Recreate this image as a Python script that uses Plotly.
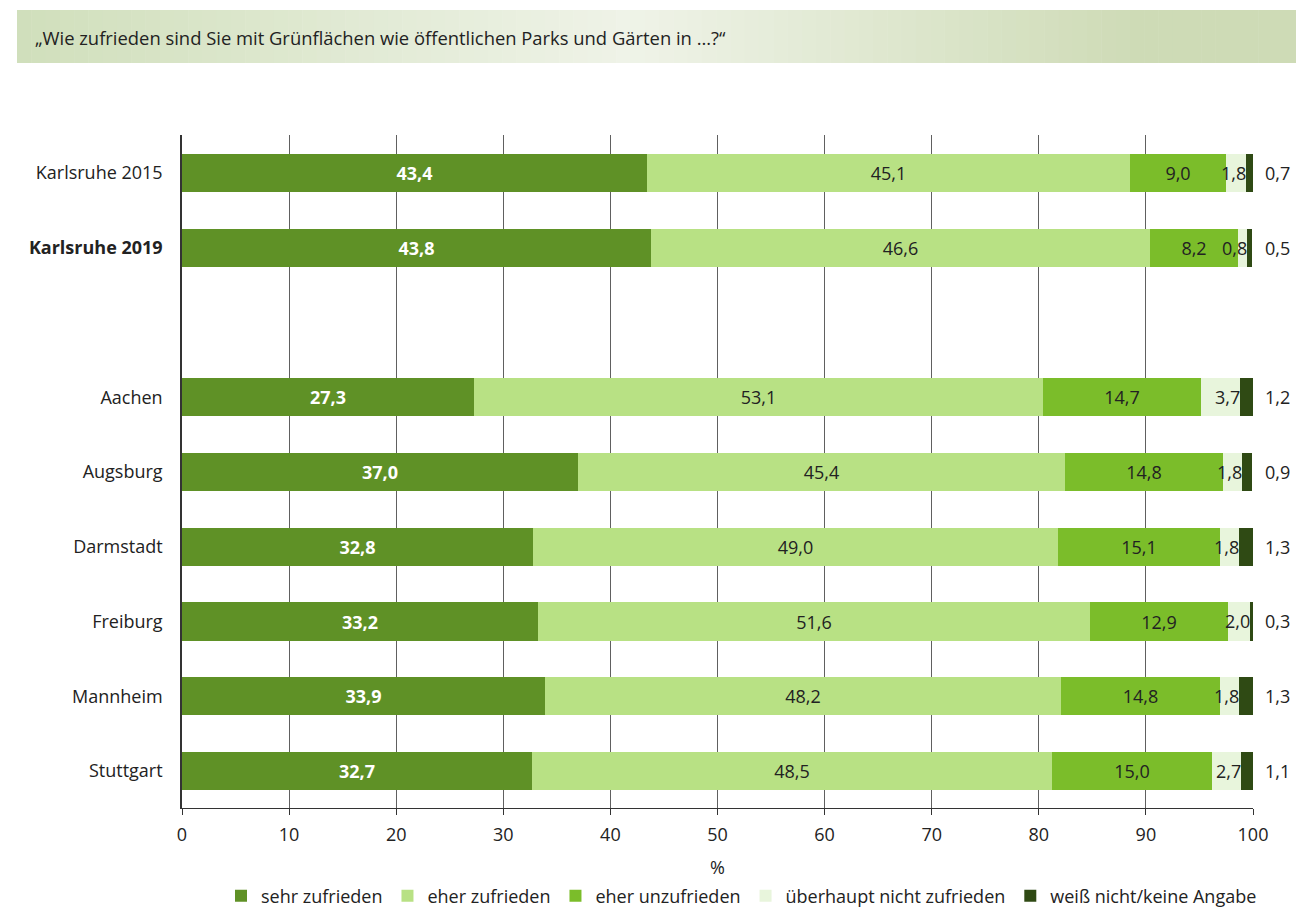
import plotly.graph_objects as go

categories = ["Karlsruhe 2015", "Karlsruhe 2019", "Aachen", "Augsburg", "Darmstadt",
              "Freiburg", "Mannheim", "Stuttgart"]
positions = [8, 7, 5, 4, 3, 2, 1, 0]

sehr_zufrieden = [43.4, 43.8, 27.3, 37.0, 32.8, 33.2, 33.9, 32.7]
eher_zufrieden = [45.1, 46.6, 53.1, 45.4, 49.0, 51.6, 48.2, 48.5]
eher_unzufrieden = [9.0, 8.2, 14.7, 14.8, 15.1, 12.9, 14.8, 15.0]
ueberhaupt_nicht = [1.8, 0.8, 3.7, 1.8, 1.8, 2.0, 1.8, 2.7]
weiss_nicht = [0.7, 0.5, 1.2, 0.9, 1.3, 0.3, 1.3, 1.1]

series_names = ["sehr zufrieden", "eher zufrieden", "eher unzufrieden",
                "überhaupt nicht zufrieden", "weiß nicht/keine Angabe"]
series_values = [sehr_zufrieden, eher_zufrieden, eher_unzufrieden, ueberhaupt_nicht, weiss_nicht]
colors = ["#5f9126", "#b8e184", "#7bbd2a", "#e8f5dc", "#2f4a14"]

x_ticks = list(range(0, 101, 10))
title_text = "„Wie zufrieden sind Sie mit Grünflächen wie öffentlichen Parks und Gärten in …?“"

FONT = "Open Sans"
FS = 18
TXT = "#222222"
OFF = 8  # page body margin
FIG_W, FIG_H = 1304 - 2 * OFF, 920 - 2 * OFF


def fmt(v):
    return f"{v:.1f}".replace(".", ",")


fig = go.Figure()
for i, (name, vals, col) in enumerate(zip(series_names, series_values, colors)):
    if i == 0:
        tf = dict(family=FONT, size=FS, color="white", weight="bold")
    else:
        tf = dict(family=FONT, size=FS, color=TXT)
    with_text = i in (0, 1, 2)
    fig.add_trace(go.Bar(
        y=positions, x=vals, name=name, orientation="h",
        marker=dict(color=col, line=dict(width=0)),
        width=0.51,
        text=[fmt(v) for v in vals] if with_text else None,
        textposition="inside", insidetextanchor="middle",
        constraintext="none", textangle=0,
        textfont=tf, insidetextfont=tf,
        hoverinfo="skip",
    ))

# labels of the small 4th segment, drawn above all bars, ending at the segment's right edge
for j, p in enumerate(positions):
    end = sum(series_values[k][j] for k in range(4))
    v = ueberhaupt_nicht[j]
    fig.add_annotation(x=end, y=p, xref="x", yref="y", text=fmt(v), showarrow=False,
                       xanchor="right", xshift=1, borderpad=0,
                       font=dict(family=FONT, size=FS, color=TXT))

# outside labels for last series
for p, v in zip(positions, weiss_nicht):
    fig.add_annotation(x=100, y=p, xref="x", yref="y", text=fmt(v), showarrow=False,
                       xanchor="left", xshift=10, font=dict(family=FONT, size=FS, color=TXT))

# reference pixel geometry (page coordinates)
L, R, T, B = 182 - OFF, 1253 - OFF, 135 - OFF, 808 - OFF
W, H = R - L, B - T


def px_x(px):
    return (px - OFF - L) / W


def px_y(py):
    return (B - (py - OFF)) / H


def lerp(c1, c2, t):
    return tuple(int(round(a + (b - a) * t)) for a, b in zip(c1, c2))


c_left = (208, 223, 187)
c_mid = (239, 243, 232)
c_right = (206, 219, 182)
x0p, x1p = 17, 1301
n = 90
shapes = []
for k in range(n):
    a = x0p + (x1p - x0p) * k / n
    b = x0p + (x1p - x0p) * (k + 1) / n + 0.5
    cx = (a + b) / 2
    if cx < 630:
        c = lerp(c_left, c_mid, (cx - x0p) / (630 - x0p))
    elif cx < 1140:
        c = lerp(c_mid, c_right, (cx - 630) / (1140 - 630))
    else:
        c = c_right
    shapes.append(dict(type="rect", xref="paper", yref="paper",
                       x0=px_x(a), x1=px_x(min(b, x1p)), y0=px_y(63), y1=px_y(10),
                       fillcolor="rgb(%d,%d,%d)" % c, line=dict(width=0), layer="below"))

fig.add_annotation(xref="paper", yref="paper", x=px_x(33), y=px_y(37), text=title_text,
                   showarrow=False, xanchor="left", yanchor="middle",
                   font=dict(family=FONT, size=18.4, color=TXT))

fig.update_layout(
    width=FIG_W, height=FIG_H,
    margin=dict(l=L, r=FIG_W - R, t=T, b=FIG_H - B, pad=0, autoexpand=False),
    barmode="stack", bargap=0,
    plot_bgcolor="white", paper_bgcolor="white",
    shapes=shapes,
    showlegend=True,
    legend=dict(orientation="h", x=0.5 + 24 / W, xanchor="center", y=px_y(896), yanchor="middle",
                font=dict(family=FONT, size=FS, color=TXT), traceorder="normal",
                itemwidth=30),
    xaxis=dict(range=[0, 100], tickvals=x_ticks, ticktext=[str(t) for t in x_ticks],
               showgrid=True, gridcolor="#606060", gridwidth=1.3,
               showline=True, linecolor="#333333", linewidth=1.3,
               ticks="outside", ticklen=6, tickcolor="#333333", tickwidth=1.3,
               ticklabelstandoff=4,
               tickfont=dict(family=FONT, size=FS, color=TXT),
               title=dict(text="%", font=dict(family=FONT, size=FS, color=TXT), standoff=16),
               zeroline=False, fixedrange=True),
    yaxis=dict(range=[-0.495, 8.508], tickvals=positions,
               ticktext=[("<b>%s</b>" % c) if c == "Karlsruhe 2019" else c for c in categories],
               showgrid=False, zeroline=False, showline=True, linecolor="#333333", linewidth=1.5,
               ticks="", ticklabelstandoff=14,
               tickfont=dict(family=FONT, size=FS, color=TXT), fixedrange=True),
    font=dict(family=FONT),
)

fig.write_html("out.html")
